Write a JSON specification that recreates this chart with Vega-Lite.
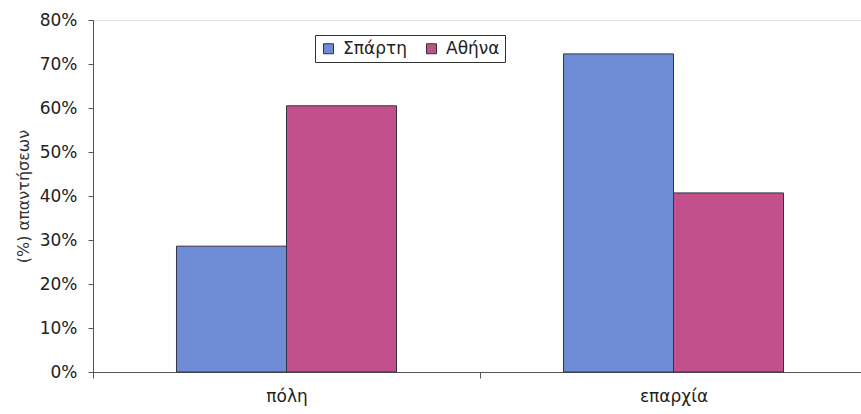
{
  "$schema": "https://vega.github.io/schema/vega-lite/v6.json",
  "width": 768,
  "height": 352,
  "autosize": {"type": "none"},
  "padding": {"left": 93, "top": 20, "right": 0, "bottom": 42},
  "background": "white",
  "data": {
    "values": [
      {"area": "πόλη", "city": "Σπάρτη", "pct": 0.286},
      {"area": "πόλη", "city": "Αθήνα", "pct": 0.605},
      {"area": "επαρχία", "city": "Σπάρτη", "pct": 0.723},
      {"area": "επαρχία", "city": "Αθήνα", "pct": 0.407}
    ]
  },
  "mark": {"type": "bar", "stroke": "#333344", "strokeWidth": 1},
  "encoding": {
    "x": {
      "field": "area", "type": "nominal", "sort": ["πόλη", "επαρχία"],
      "scale": {"paddingInner": 0, "paddingOuter": 0, "range": [0, 774]},
      "axis": {
        "title": null, "labelAngle": 0, "labelFont": "DejaVu Sans", "labelFontSize": 17,
        "labelColor": "#222222", "labelPadding": 10, "tickBand": "extent", "tickSize": 6,
        "domainColor": "#555555", "tickColor": "#555555"
      }
    },
    "xOffset": {
      "field": "city", "type": "nominal", "sort": ["Σπάρτη", "Αθήνα"],
      "scale": {"paddingInner": 0, "paddingOuter": 0.759}
    },
    "y": {
      "field": "pct", "type": "quantitative",
      "scale": {"domain": [0, 0.8]},
      "axis": {
        "format": ".0%", "values": [0, 0.1, 0.2, 0.3, 0.4, 0.5, 0.6, 0.7, 0.8],
        "grid": false, "title": "(%) απαντήσεων", "titleFont": "DejaVu Sans",
        "titleFontSize": 16, "titleFontWeight": "normal", "titleColor": "#333333", "titlePadding": 8,
        "labelFont": "DejaVu Sans", "labelFontSize": 17, "labelColor": "#222222",
        "labelPadding": 11, "tickSize": 5, "domainColor": "#555555", "tickColor": "#555555"
      }
    },
    "color": {
      "field": "city", "type": "nominal", "sort": ["Σπάρτη", "Αθήνα"],
      "scale": {"domain": ["Σπάρτη", "Αθήνα"], "range": ["#6f8dd6", "#c2508c"]},
      "legend": {
        "title": null, "orient": "none", "legendX": 222, "legendY": 15, "direction": "horizontal",
        "symbolType": "square", "symbolSize": 100, "symbolStrokeColor": "#333", "symbolStrokeWidth": 1,
        "labelFont": "DejaVu Sans", "labelFontSize": 17, "labelColor": "#222222",
        "strokeColor": "#333333", "padding": 5, "columnPadding": 16, "labelOffset": 6
      }
    }
  }
}
